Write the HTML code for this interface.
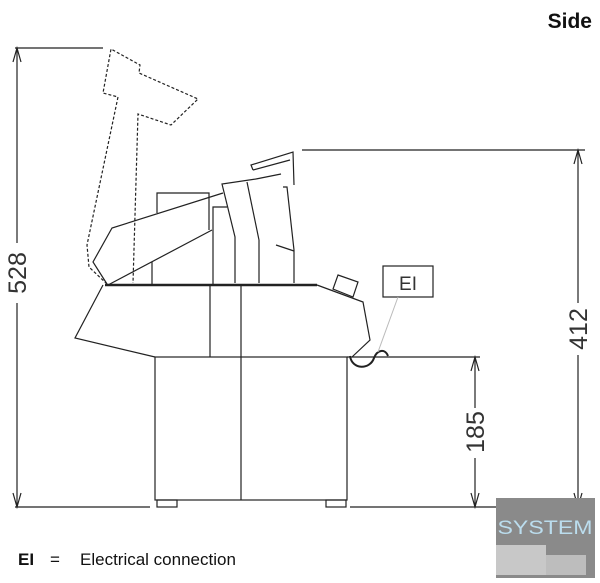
<!DOCTYPE html>
<html><head><style>
body{margin:0;background:#fff;}
svg{display:block}
text{font-family:"Liberation Sans",sans-serif}
</style></head><body>
<svg width="600" height="583" viewBox="0 0 600 583" xmlns="http://www.w3.org/2000/svg">
<text x="592" y="28" font-size="21" font-weight="bold" text-anchor="end" fill="#111">Side</text>
<g fill="none" stroke="#222" stroke-width="1.2">
<line x1="15" y1="48" x2="103" y2="48"/>
<line x1="17" y1="48" x2="17" y2="507"/>
<line x1="15" y1="507" x2="150" y2="507"/>
<polyline points="13,62 17,48 21,62"/><polyline points="13,493 17,507 21,493"/>
<line x1="302" y1="150" x2="585" y2="150"/>
<line x1="578" y1="150" x2="578" y2="507"/>
<polyline points="574,164 578,150 582,164"/><polyline points="574,493 578,507 582,493"/>
<line x1="350" y1="507" x2="585" y2="507"/>
<line x1="388" y1="357" x2="480" y2="357"/>
<line x1="475" y1="357" x2="475" y2="507"/>
<polyline points="471,371 475,357 479,371"/><polyline points="471,493 475,507 479,493"/>
<polyline stroke-dasharray="3,2" points="107,284 89,267 87,245 118,97 103,93 111,49 140,65 139,73 198,99 171,125 138,114 133,283"/>
<polyline points="107,284 93,262 112,228 223,193"/>
<line x1="108" y1="285" x2="212" y2="230"/>
<polyline points="157,213 157,193 209,193 209,230"/>
<line x1="152" y1="262" x2="152" y2="285"/>
<polyline points="213,285 213,207 227,207"/>
<polyline points="235,283 235,237 222,184 256,179"/>
<polyline points="247,182 259,240 259,283"/>
<polyline points="294,283 294,250 287,187 283,187"/>
<line x1="276" y1="245" x2="294" y2="251"/>
<polyline points="253,170 251,165 293,152 294,185"/>
<line x1="253" y1="170" x2="290" y2="160"/>
<line x1="256" y1="179" x2="281" y2="174"/>
<line x1="105" y1="285" x2="317" y2="285" stroke-width="2.5"/>
<polyline points="103,285 75,338 155,357"/>
<polyline points="317,285 363,302 370,340 352,357"/>
<line x1="210" y1="285" x2="210" y2="357"/>
<line x1="241" y1="285" x2="241" y2="357"/>
<polygon points="338,275 358,282 353,297 333,289"/>
<rect x="155" y="357" width="192" height="143"/>
<line x1="241" y1="357" x2="241" y2="500"/>
<rect x="157" y="500" width="20" height="7"/>
<rect x="326" y="500" width="20" height="7"/>
<line x1="347" y1="357" x2="388" y2="357"/>
<path d="M350,356 C352,370 370,370 374,358 C377,350 385,348 388,356" stroke-width="2"/>
<rect x="383" y="266" width="50" height="31"/>
<line x1="398" y1="297" x2="378" y2="352" stroke="#bbb" stroke-width="1"/>
</g>
<text x="408" y="290" font-size="19" text-anchor="middle" fill="#333">EI</text>
<rect x="8" y="243" width="19" height="60" fill="#fff"/>
<rect x="569" y="303" width="19" height="52" fill="#fff"/>
<rect x="466" y="408" width="19" height="50" fill="#fff"/>
<text transform="translate(26,273) rotate(-90)" font-size="25" text-anchor="middle" fill="#333">528</text>
<text transform="translate(587,329) rotate(-90)" font-size="25" text-anchor="middle" fill="#333">412</text>
<text transform="translate(484,432) rotate(-90)" font-size="25" text-anchor="middle" fill="#333">185</text>
<rect x="496" y="498" width="99" height="80" fill="#8a8a8a"/>
<rect x="496" y="545" width="50" height="30" fill="#c8c8c8"/>
<rect x="546" y="555" width="40" height="20" fill="#bdbdbd"/>
<text x="545" y="534" font-size="19" font-family="Liberation Mono,monospace" text-anchor="middle" fill="#bde" textLength="95" lengthAdjust="spacingAndGlyphs">SYSTEM</text>
<text x="18" y="565" font-size="17" font-weight="bold" fill="#111">EI</text>
<text x="50" y="565" font-size="17" fill="#111">=</text>
<text x="80" y="565" font-size="17" fill="#111">Electrical connection</text>
</svg>
</body></html>
